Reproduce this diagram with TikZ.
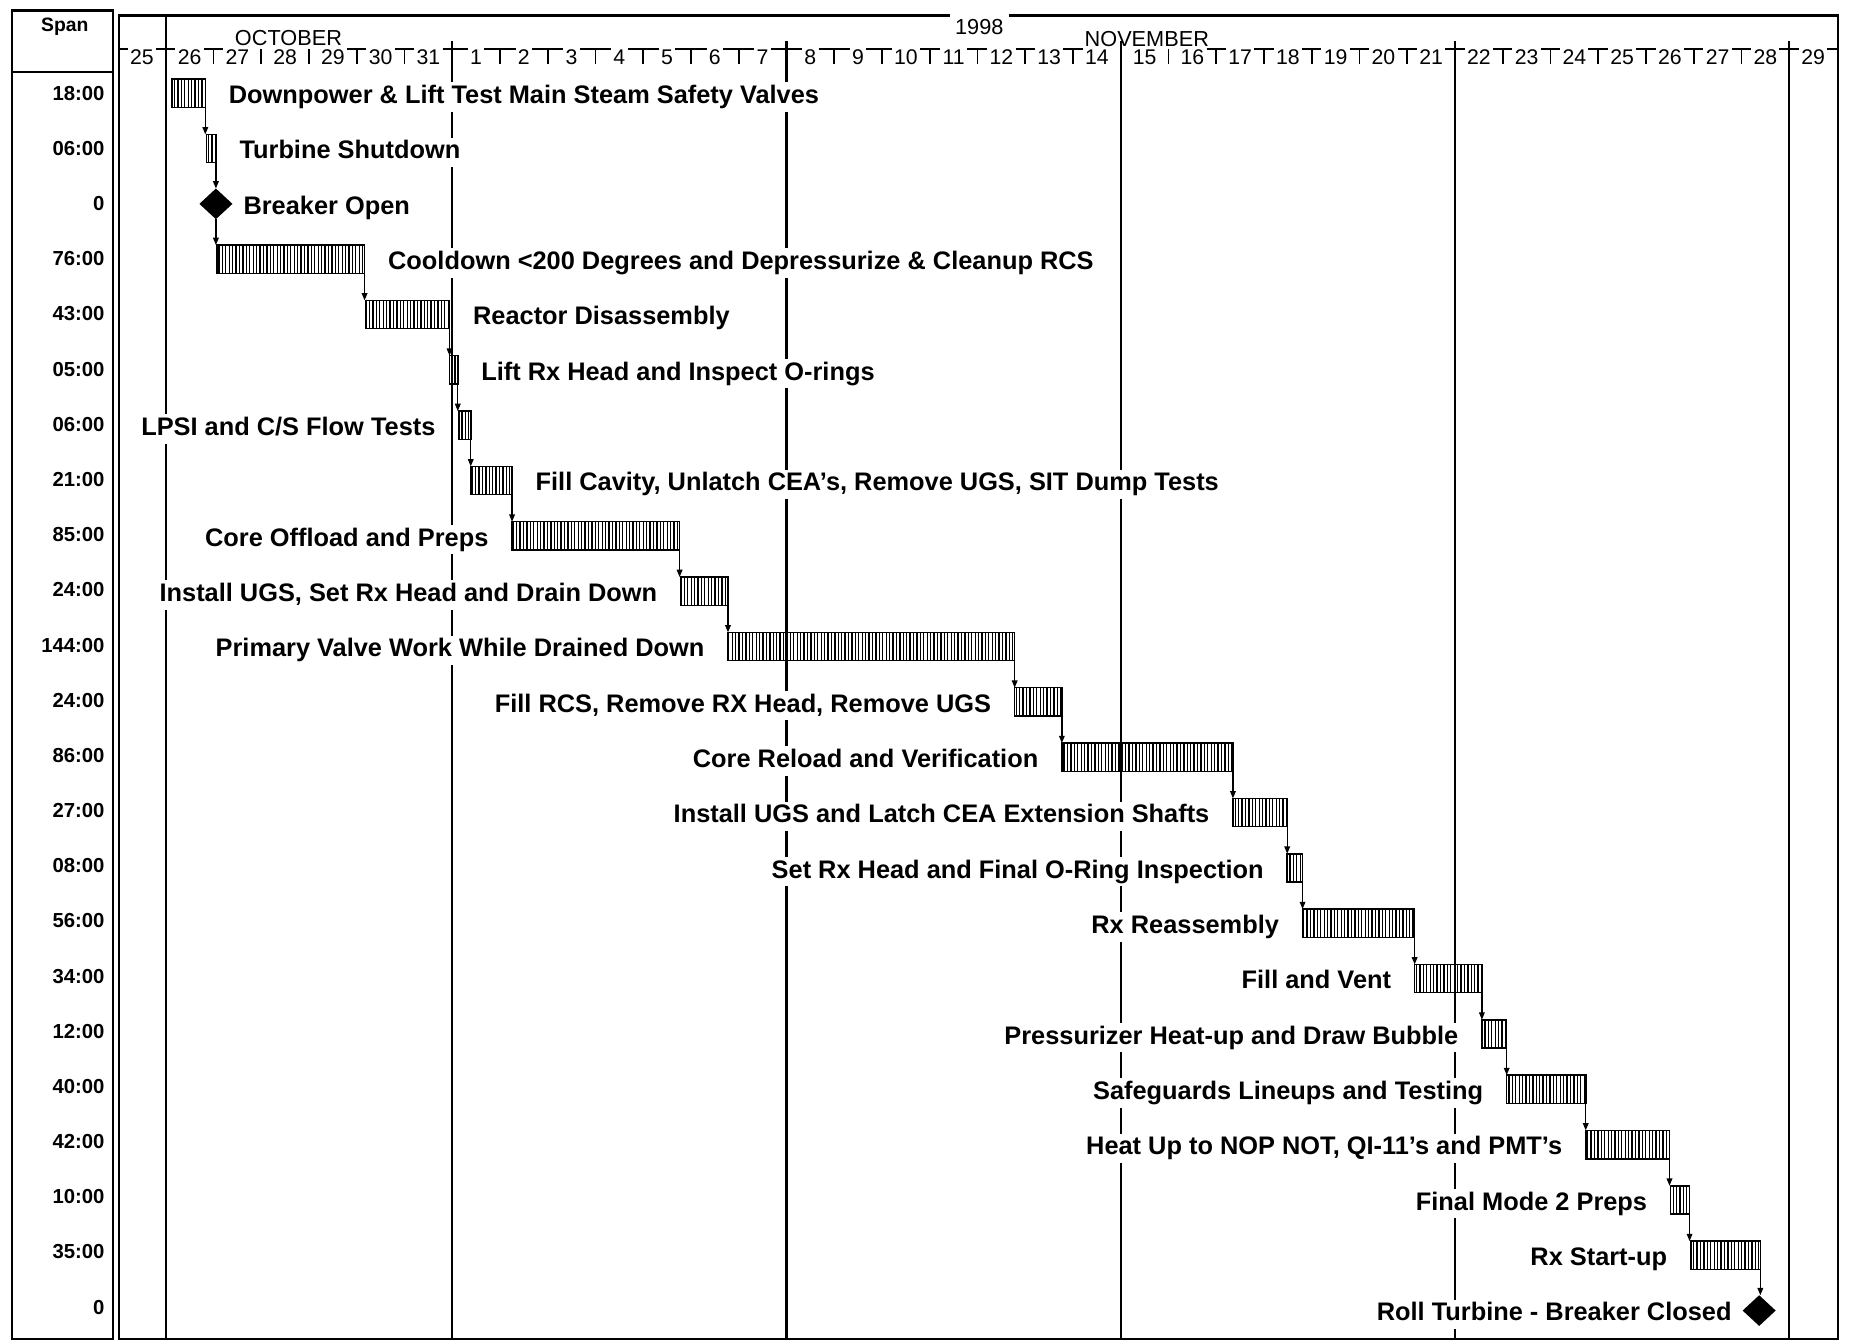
\documentclass[tikz,border=0pt]{standalone}
\usepackage{fontspec}
\setmainfont{Liberation Sans}
\usetikzlibrary{shapes.geometric,arrows.meta,patterns.meta}
\begin{document}
\begin{tikzpicture}[x=0.5pt,y=-0.5pt,
  frame/.style={line width=1pt},
  week/.style={line width=1pt},
  tick/.style={line width=0.75pt},
  bar/.style={draw, line width=0.65pt, pattern={Lines[angle=90,distance=1.45pt,line width=0.55pt]},
    minimum height=12pt, inner sep=0pt, outer sep=0pt, anchor=west},
  ms/.style={diamond, fill=black, minimum width=14pt, minimum height=13pt, inner sep=0pt, outer sep=0pt},
  lab/.style={fill=white, inner sep=1.4pt, text height=7.6pt, text depth=2pt, yshift=-1.6pt,
    font=\fontsize{10.75}{12}\selectfont\bfseries},
  spanlab/.style={anchor=east, inner sep=0pt, font=\fontsize{8.6}{10}\selectfont\bfseries},
  daylab/.style={inner xsep=0.8pt, inner ysep=0pt, font=\fontsize{9}{10}\selectfont},
  month/.style={inner xsep=1pt, inner ysep=0pt, font=\fontsize{9.2}{11}\selectfont},
  arr/.style={line width=0.55pt, -{Triangle[length=3.1pt,width=2.4pt]}},
]
\useasboundingbox (0,0) rectangle (1568,1138);

% span column frame
\draw[frame] (10,9) rectangle (96,1135);
\draw[frame] (10,61) -- (96,61);
\node[inner sep=0pt, font=\fontsize{8.2}{10}\selectfont\bfseries] (spanhdr) at (55,23) {Span};

% year label and chart frame (top edge broken by the year)
\node[month, inner xsep=2pt] (yr) at (830,22.5) {1998};
\draw[frame] (yr.east |- 0,13) -- (1558,13) -- (1558,1135) -- (101,1135) -- (101,13) -- (yr.west |- 0,13);

% day numbers and month names
\foreach \d [count=\i] in {25,26,27,28,29,30,31,1,2,3,4,5,6,7,8,9,10,11,12,13,14,15,16,17,18,19,20,21,22,23,24,25,26,27,28,29}
  \node[daylab] (day\i) at ({160.7+40.47*(\i-2)},48.5) {\d};
\node[month] (oct) at (244.5,32.5) {OCTOBER};
\node[month] (nov) at (972,33) {NOVEMBER};

% day tick row: top line broken by the numbers and month names
\draw[tick] (101,41.5) -- (day1.west |- 0,41.5);
\foreach \i [evaluate=\i as \j using int(\i+1)] in {1,2,5,6,...,20,23,24,...,35}
  \draw[tick] (day\i.east |- 0,41.5) -- (day\j.west |- 0,41.5);
\draw[tick] (day36.east |- 0,41.5) -- (1558,41.5);
\foreach \k in {0,...,34} \draw[tick] ({140.5+40.47*\k},41.5) -- ({140.5+40.47*\k},54);

% weekly lines
\draw[week] (140.5,13) -- (140.5,1135);
\foreach \k in {6,13,20,27,34} \draw[week] ({140.5+40.47*\k},35) -- ({140.5+40.47*\k},1135);

% span column
\foreach \s [count=\i from 0] in {18:00,06:00,0,76:00,43:00,05:00,06:00,21:00,85:00,24:00,144:00,24:00,86:00,27:00,08:00,56:00,34:00,12:00,40:00,42:00,10:00,35:00,0}
  \node[spanlab] (sp\i) at (89,{79+46.77*\i}) {\s};

% bars: index/start/end
\foreach \i/\xa/\xb in {1/146/174,2/175/183,4/184/309,5/310/381,6/381/388,7/389/399,8/399/434,
  9/434/576,10/577/617,11/617/860,12/860/900,13/900/1045,14/1045/1091,15/1091/1104,16/1104/1199,
  17/1199/1256,18/1256/1277,19/1277/1344,20/1344/1415,21/1416/1432,22/1433/1492}
  \node[bar, minimum width={(\xb-\xa)*0.5pt}] (b\i) at (\xa,{79+46.9*(\i-1)}) {};
\node[ms] (b3) at (183,{79+46.9*2}) {};
\node[ms] (b23) at (1491,{79+46.9*22}) {};

% labels right of bars
\foreach \i/\txt in {1/{Downpower \& Lift Test Main Steam Safety Valves},2/{Turbine Shutdown},
  4/{Cooldown <200 Degrees and Depressurize \& Cleanup RCS},5/{Reactor Disassembly},
  6/{Lift Rx Head and Inspect O-rings},8/{Fill Cavity, Unlatch CEA's, Remove UGS, SIT Dump Tests}}
  \node[lab, anchor=west, xshift=8.4pt] (t\i) at (b\i.east) {\txt};
\node[lab, anchor=west, xshift=3.1pt] (t3) at (b3.east) {Breaker Open};

% labels left of bars
\foreach \i/\txt in {7/{LPSI and C/S Flow Tests},9/{Core Offload and Preps},
  10/{Install UGS, Set Rx Head and Drain Down},11/{Primary Valve Work While Drained Down},
  12/{Fill RCS, Remove RX Head, Remove UGS},13/{Core Reload and Verification},
  14/{Install UGS and Latch CEA Extension Shafts},15/{Set Rx Head and Final O-Ring Inspection},
  16/{Rx Reassembly},17/{Fill and Vent},18/{Pressurizer Heat-up and Draw Bubble},
  19/{Safeguards Lineups and Testing},20/{Heat Up to NOP NOT, QI-11's and PMT's},
  21/{Final Mode 2 Preps},22/{Rx Start-up}}
  \node[lab, anchor=east, xshift=-8.4pt] (t\i) at (b\i.west) {\txt};
\node[lab, anchor=east, xshift=-3.1pt] (t23) at (b23.west) {Roll Turbine - Breaker Closed};

% connectors
\draw[arr] (b2.south east) -- (b2.south east |- b3.north);
\draw[arr] (b3.south) -- (b3.south |- b4.north);
\draw[arr] (b22.south east) -- (b22.south east |- b23.north);
\foreach \a/\b in {1/2,4/5,5/6,6/7,7/8,8/9,9/10,10/11,11/12,12/13,13/14,14/15,15/16,16/17,17/18,18/19,19/20,20/21,21/22}
  \draw[arr] (b\a.south east) -- (b\a.south east |- b\b.north);
\end{tikzpicture}
\end{document}
